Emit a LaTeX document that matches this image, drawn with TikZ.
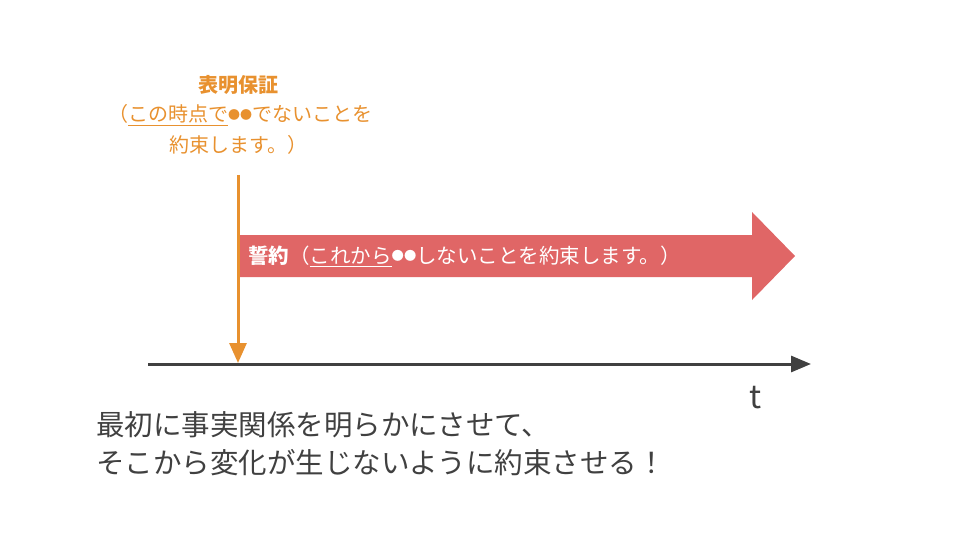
\documentclass[tikz,border=0pt]{standalone}
\usepackage{fontspec}
\setmainfont{Noto Sans CJK JP}
\usetikzlibrary{arrows.meta}
\definecolor{org}{HTML}{E8912F}
\definecolor{redc}{HTML}{E06666}
\definecolor{dk}{HTML}{404040}
\newcommand{\ul}[1]{\underline{#1}}
\newcommand{\dt}{\raisebox{0.12em}{\scalebox{0.6}{●}}}
\begin{document}
\begin{tikzpicture}[x=1pt,y=-1pt]
\useasboundingbox (0,0) rectangle (960,540);
\tikzset{otext/.style={text=org,font=\fontsize{20}{24}\selectfont,anchor=center,inner sep=0}}
\node[otext] (t1) at (238,85) {\bfseries 表明保証};
\node[otext] (t2) at (240,115) {（\ul{この時点で}\dt\dt でないことを};
\node[otext] (t3) at (238,145) {約束します。）};
\coordinate (vs) at (238,175);
\coordinate (ve) at (238,363);
\draw[org,line width=3,-{Triangle[length=20,width=17]}] (vs) -- (ve);
\fill[redc] (240,235) -- (752,235) -- (752,212) -- (795,256) -- (752,300) -- (752,277) -- (240,277) -- cycle;
\node[anchor=west,text=white,inner sep=0,font=\fontsize{20.5}{24}\selectfont] (red) at (248,256) {\bfseries 誓約\mdseries（\ul{これから}\dt\dt しないことを約束します。）};
\coordinate (a1) at (148,364);
\coordinate (a2) at (811,364);
\draw[dk,line width=3,-{Triangle[length=20,width=16]}] (a1) -- (a2);
\node[text=dk,font=\fontsize{32}{32}\selectfont,inner sep=0] (t) at (756,398) {t};
\node[text=dk,anchor=west,align=left,inner sep=0,font=\fontsize{28.5}{38}\selectfont] (b) at (96,444) {最初に事実関係を明らかにさせて、\\そこから変化が生じないように約束させる！};
\end{tikzpicture}
\end{document}
